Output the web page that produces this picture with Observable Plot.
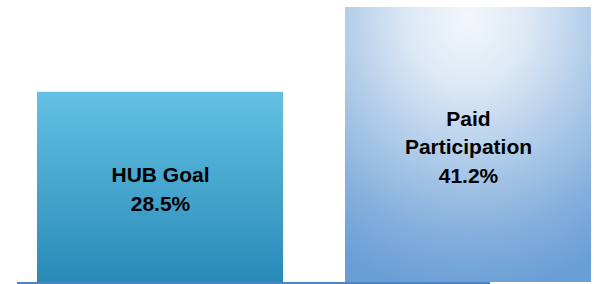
<!DOCTYPE html>
<html>
<head>
<meta charset="utf-8">
<script src="https://cdn.jsdelivr.net/npm/d3@7"></script>
<script src="https://cdn.jsdelivr.net/npm/@observablehq/plot@0.6"></script>
<style>
  html, body { margin: 0; padding: 0; background: #ffffff; }
  #chart svg { display: block; }
</style>
</head>
<body>
<div id="chart"></div>
<script>
const categories = ["HUB Goal", "Paid Participation"];
const values = [28.5, 41.2];
const labels = ["HUB Goal\n28.5%", "Paid\nParticipation\n41.2%"];
const fills = ["url(#gradHub)", "url(#gradPaid)"];

const data = categories.map((c, i) => ({category: c, value: values[i], label: labels[i], fill: fills[i]}));

const chart = Plot.plot({
  width: 594,
  height: 284,
  marginLeft: 37,
  marginRight: 2,
  marginTop: 7,
  marginBottom: 2,
  style: {fontFamily: "'Liberation Sans', Arial, sans-serif", background: "#ffffff"},
  x: {domain: categories, paddingInner: 0.2, paddingOuter: 0, axis: null},
  y: {domain: [0, 41.2], axis: null},
  marks: [
    Plot.barY(data.filter(d => d.category === categories[0]), {x: "category", y: "value", fill: fills[0]}),
    Plot.barY(data.filter(d => d.category === categories[1]), {x: "category", y: "value", fill: fills[1]}),
    Plot.ruleY([0], {stroke: "#4f84c4", strokeWidth: 2, insetLeft: -20, insetRight: 102, dy: 0.5}),
    Plot.text(data, {
      x: "category",
      y: d => d.value / 2,
      text: "label",
      fontSize: 21,
      fontWeight: "bold",
      lineHeight: 1.36,
      fill: "#000000",
      textAnchor: "middle"
    })
  ]
});

const svg = d3.select(chart);
const defs = svg.insert("defs", ":first-child");
const g1 = defs.append("linearGradient").attr("id", "gradHub")
  .attr("x1", 0).attr("y1", 0).attr("x2", 0).attr("y2", 1);
g1.append("stop").attr("offset", "0%").attr("stop-color", "#64c0e4");
g1.append("stop").attr("offset", "100%").attr("stop-color", "#288bb7");

const g2 = defs.append("radialGradient").attr("id", "gradPaid")
  .attr("cx", 0.5).attr("cy", 0.04).attr("r", 1.0).attr("fx", 0.5).attr("fy", 0.04);
g2.append("stop").attr("offset", "0%").attr("stop-color", "#f3f7fc");
g2.append("stop").attr("offset", "25%").attr("stop-color", "#dce8f5");
g2.append("stop").attr("offset", "80%").attr("stop-color", "#82aedc");
g2.append("stop").attr("offset", "100%").attr("stop-color", "#6a9fd5");

document.getElementById("chart").appendChild(chart);
</script>
</body>
</html>
